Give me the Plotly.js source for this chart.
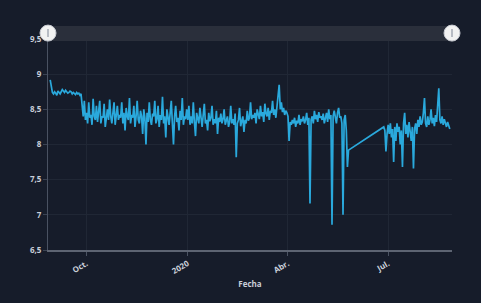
<!DOCTYPE html>
<html>
<head>
<meta charset="utf-8">
<script src="https://cdn.plot.ly/plotly-3.0.1.min.js"></script>
<style>html,body{margin:0;padding:0;background:#161c2a;}#chart{width:481px;height:303px;}</style>
</head>
<body>
<div id="chart"></div>
<script>
// Daily pH-like readings, first block starts 2019-08-29
const start1 = '2019-08-29';
const valuesAug2019 = [8.92, 8.85, 8.74];
const valuesSep2019 = [8.72, 8.75, 8.73, 8.70, 8.76, 8.74, 8.72, 8.75, 8.78, 8.76, 8.74, 8.77, 8.75, 8.73, 8.74, 8.76, 8.75, 8.72, 8.74, 8.73, 8.71, 8.74, 8.72, 8.73, 8.70, 8.72, 8.55, 8.40, 8.62, 8.35];
const valuesOct2019 = [8.45, 8.30, 8.60, 8.38, 8.42, 8.28, 8.65, 8.40, 8.35, 8.55, 8.32, 8.45, 8.62, 8.30, 8.40, 8.38, 8.58, 8.25, 8.42, 8.50, 8.35, 8.64, 8.40, 8.30, 8.45, 8.60, 8.28, 8.40, 8.55, 8.35, 8.42];
const valuesNov2019 = [8.38, 8.60, 8.30, 8.45, 8.20, 8.52, 8.40, 8.35, 8.66, 8.30, 8.42, 8.38, 8.55, 8.25, 8.40, 8.62, 8.35, 8.30, 8.48, 8.40, 8.15, 8.50, 8.38, 8.00, 8.45, 8.32, 8.60, 8.35, 8.28, 8.44];
const valuesDec2019 = [8.40, 8.62, 8.30, 8.36, 8.55, 8.25, 8.42, 8.35, 8.68, 8.30, 8.40, 8.10, 8.50, 8.35, 8.28, 8.45, 8.62, 8.30, 8.00, 8.40, 8.55, 8.32, 8.38, 8.20, 8.48, 8.35, 8.66, 8.28, 8.40, 8.36, 8.50];
const valuesJan2020 = [8.35, 8.55, 8.28, 8.40, 8.30, 8.60, 8.32, 8.12, 8.45, 8.35, 8.30, 8.52, 8.38, 8.25, 8.42, 8.58, 8.30, 8.35, 8.20, 8.45, 8.33, 8.38, 8.55, 8.28, 8.36, 8.30, 8.48, 8.15, 8.38, 8.32, 8.44];
const valuesFeb2020 = [8.30, 8.36, 8.50, 8.28, 8.34, 8.40, 8.25, 8.32, 8.55, 8.30, 8.36, 8.28, 8.44, 7.82, 8.30, 8.35, 8.52, 8.26, 8.33, 8.40, 8.18, 8.35, 8.30, 8.48, 8.34, 8.38, 8.60, 8.36, 8.42];
const valuesMar2020 = [8.38, 8.45, 8.30, 8.50, 8.42, 8.36, 8.55, 8.40, 8.46, 8.32, 8.58, 8.44, 8.40, 8.52, 8.35, 8.48, 8.45, 8.62, 8.42, 8.50, 8.38, 8.55, 8.66, 8.85, 8.50, 8.60, 8.46, 8.52, 8.42, 8.48, 8.45];
const valuesApr2020 = [8.40, 8.05, 8.32, 8.28, 8.35, 8.30, 8.38, 8.25, 8.34, 8.30, 8.42, 8.28, 8.36, 8.33, 8.40, 8.30, 8.35, 8.45, 8.28, 8.38, 7.16, 8.35, 8.40, 8.30, 8.48, 8.36, 8.42, 8.32, 8.46, 8.38];
const valuesMay2020 = [8.40, 8.35, 8.44, 8.30, 8.38, 8.45, 8.32, 8.50, 8.36, 8.42, 6.86, 8.40, 8.48, 8.35, 8.30, 8.45, 8.52, 8.38, 8.40, 8.30, 7.00, 8.35, 8.42, 8.20, 7.68, 7.92];
// Second block after the data gap, starts 2020-06-27
const start2 = '2020-06-27';
const valuesJun2020 = [8.25, 8.20, 7.90, 8.15];
const valuesJul2020 = [8.28, 8.15, 8.30, 8.10, 8.22, 7.75, 8.25, 8.05, 8.30, 8.18, 8.25, 8.00, 8.20, 7.68, 8.30, 8.45, 8.15, 8.28, 8.10, 8.32, 8.20, 8.05, 8.25, 7.66, 8.22, 8.30, 8.15, 8.35, 8.25, 8.40, 8.28];
const valuesAug2020 = [8.32, 8.45, 8.66, 8.30, 8.25, 8.40, 8.28, 8.35, 8.50, 8.30, 8.38, 8.26, 8.42, 8.32, 8.55, 8.80, 8.35, 8.30, 8.40, 8.28, 8.36, 8.30, 8.25, 8.32, 8.28, 8.22];

const xTickVals = ['2019-10-01', '2020-01-01', '2020-04-01', '2020-07-01'];
const xTickText = ['Oct.', '2020', 'Abr.', 'Jul.'];
const yTickVals = [6.5, 7, 7.5, 8, 8.5, 9, 9.5];
const yTickText = ['6,5', '7', '7,5', '8', '8,5', '9', '9,5'];

function dailyDates(startStr, n) {
  const out = [];
  const d = new Date(startStr + 'T00:00:00Z');
  for (let i = 0; i < n; i++) {
    const c = new Date(d.getTime() + i * 86400000);
    out.push(c.toISOString().slice(0, 10));
  }
  return out;
}

const block1 = [].concat(valuesAug2019, valuesSep2019, valuesOct2019, valuesNov2019, valuesDec2019,
  valuesJan2020, valuesFeb2020, valuesMar2020, valuesApr2020, valuesMay2020);
const block2 = [].concat(valuesJun2020, valuesJul2020, valuesAug2020);
const xs = dailyDates(start1, block1.length).concat(dailyDates(start2, block2.length));
const ys = block1.concat(block2);

const tickFont = {family: 'Open Sans, sans-serif', size: 8, color: '#c9ced8', weight: 700};

const trace = {
  x: xs, y: ys, type: 'scatter', mode: 'lines',
  line: {color: '#2aa9dc', width: 1.7},
  hoverinfo: 'x+y'
};

const layout = {
  width: 481, height: 303,
  margin: {l: 48, r: 29, t: 39, b: 53},
  paper_bgcolor: '#161c2a',
  plot_bgcolor: '#161c2a',
  showlegend: false,
  xaxis: {
    type: 'date',
    range: ['2019-08-27', '2020-08-28'],
    tickvals: xTickVals, ticktext: xTickText,
    tickangle: -30,
    tickfont: tickFont,
    ticks: 'outside', ticklen: 4, tickcolor: '#4a5262',
    showgrid: true, gridcolor: '#202735', gridwidth: 1,
    showline: true, linecolor: '#5d6472', linewidth: 2,
    zeroline: false,
    title: {text: 'Fecha', font: {family: 'Open Sans, sans-serif', size: 8, color: '#c9ced8', weight: 700}, standoff: 6}
  },
  yaxis: {
    range: [6.5, 9.5],
    tickvals: yTickVals, ticktext: yTickText,
    tickfont: tickFont,
    ticks: 'outside', ticklen: 4, tickcolor: '#3a4252',
    showgrid: true, gridcolor: '#202735', gridwidth: 1,
    showline: true, linecolor: '#4a5262', linewidth: 1,
    zeroline: false
  },
  shapes: [
    {type: 'rect', xref: 'paper', yref: 'paper', x0: 0, x1: 1, y0: 0.99, y1: 1.062,
     fillcolor: '#2a2f3b', line: {width: 0}, layer: 'above'},
    {type: 'circle', xref: 'paper', yref: 'paper', xsizemode: 'pixel', ysizemode: 'pixel',
     xanchor: 0, yanchor: 1.028, x0: -8, x1: 8, y0: -8, y1: 8,
     fillcolor: '#f2f2f2', line: {color: '#c8cbd2', width: 1}, layer: 'above'},
    {type: 'circle', xref: 'paper', yref: 'paper', xsizemode: 'pixel', ysizemode: 'pixel',
     xanchor: 1, yanchor: 1.028, x0: -8, x1: 8, y0: -8, y1: 8,
     fillcolor: '#f2f2f2', line: {color: '#c8cbd2', width: 1}, layer: 'above'},
    {type: 'line', xref: 'paper', yref: 'paper', xsizemode: 'pixel', ysizemode: 'pixel',
     xanchor: 0, yanchor: 1.028, x0: 0, x1: 0, y0: -4, y1: 4,
     line: {color: '#b8bcc4', width: 2}, layer: 'above'},
    {type: 'line', xref: 'paper', yref: 'paper', xsizemode: 'pixel', ysizemode: 'pixel',
     xanchor: 1, yanchor: 1.028, x0: 0, x1: 0, y0: -4, y1: 4,
     line: {color: '#b8bcc4', width: 2}, layer: 'above'}
  ]
};

Plotly.newPlot('chart', [trace], layout, {displayModeBar: false, staticPlot: true});
</script>
</body>
</html>
